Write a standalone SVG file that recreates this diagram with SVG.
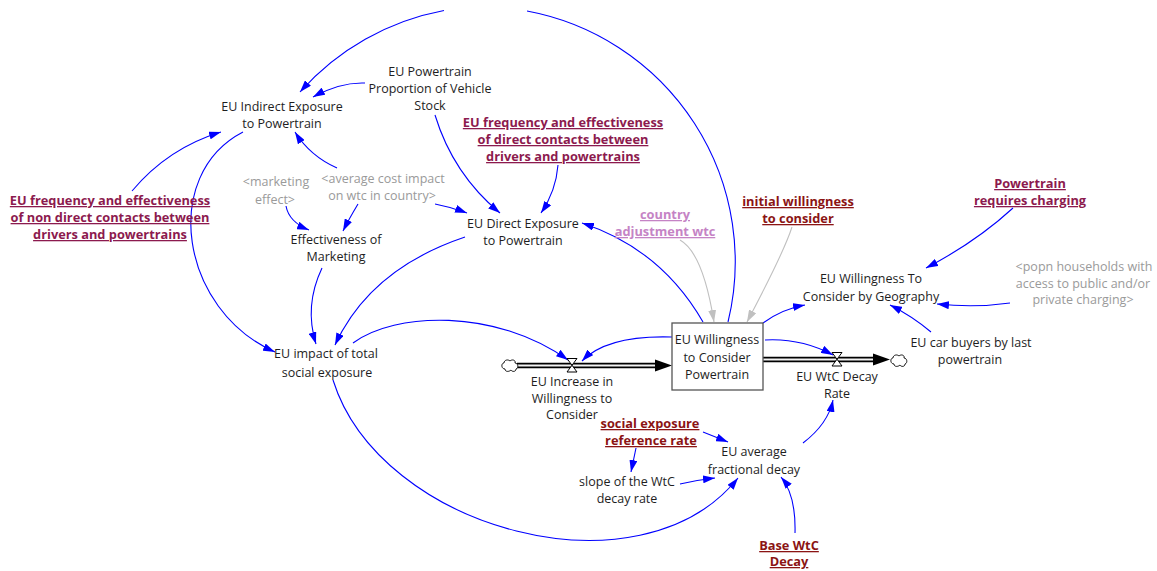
<svg xmlns="http://www.w3.org/2000/svg" width="1157" height="571" viewBox="0 0 1157 571">
<style>
.t{font-family:"Open Sans","Noto Sans",sans-serif;font-size:12.5px;fill:#1e1e1e;text-anchor:middle}
.g{fill:#9a9a9a}
.b{font-weight:bold;text-decoration:underline;font-size:12.8px}
.pm{fill:#8c1a4e}
.dr{fill:#8b1414}
.lp{fill:#c583c5}
.c{fill:none;stroke:#0000ff;stroke-width:1.1;marker-end:url(#ab)}
.cn{fill:none;stroke:#0000ff;stroke-width:1.1}
.cg{fill:none;stroke:#c0c0c0;stroke-width:1.1;marker-end:url(#ag)}
.pipe{fill:none;stroke:#000;stroke-width:5.5}
.pipei{fill:none;stroke:#f2f2f2;stroke-width:2.2}
.valve{fill:#fff;stroke:#000;stroke-width:1}
.cloud{fill:#fff;stroke:#000;stroke-width:0.9}
</style>
<defs>
<marker id="ab" viewBox="0 0 12 8" refX="12" refY="4" markerWidth="12" markerHeight="8" markerUnits="userSpaceOnUse" orient="auto"><path d="M0,0 L12,4 L0,8 z" fill="#0000ff"/></marker>
<marker id="ag" viewBox="0 0 12 8" refX="12" refY="4" markerWidth="12" markerHeight="8" markerUnits="userSpaceOnUse" orient="auto"><path d="M0,0 L12,4 L0,8 z" fill="#c0c0c0"/></marker>
<path id="cl" d="M-5,4 c-4,0 -4,-6 -1,-6 c0,-3 4,-4 6,-2 c2,-2 6,-1 5,2 c3,0 4,5 1,6 c0,3 -4,3 -5,1 c-2,2 -6,2 -6,-1 z"/>
</defs>
<rect width="1157" height="571" fill="#fff"/>

<g id="connectors">
<path class="cn" d="M728,322 A255,255 0 0 0 527,11"/>
<path class="c" d="M444,10.5 A255,255 0 0 0 300,92"/>
<path class="c" d="M365,83 Q340,82 313,97"/>
<path class="c" d="M337,168 Q310,156 295,132"/>
<path class="c" d="M358,204 Q349,219 343,231"/>
<path class="c" d="M286,206 Q289,222 309,230"/>
<path class="c" d="M435,204 Q451,207 467,213"/>
<path class="c" d="M435,115 Q453,174 500,213"/>
<path class="c" d="M558,165 Q556,191 541,213"/>
<path class="c" d="M703,322 Q661,249 582,223"/>
<path class="c" d="M132,191 Q168,148 221,132"/>
<path class="c" d="M243,132 C160,175 180,310 275,352"/>
<path class="c" d="M322,268 Q304,306 316,344"/>
<path class="c" d="M465,237 Q370,269 335,345"/>
<path class="c" d="M353,343 C395,312 495,308 568,360"/>
<path class="c" d="M672,337 Q607,335 582,361"/>
<path class="c" d="M333,380 C380,530 640,600 738,478"/>
<path class="c" d="M703,432 L728,442"/>
<path class="c" d="M636,448 L631,472"/>
<path class="c" d="M680,484 Q697,480 715,478"/>
<path class="c" d="M795,533 Q796,495 781,477"/>
<path class="c" d="M803,443 Q828,424 833,400"/>
<path class="c" d="M765,340 Q801,338 833,355"/>
<path class="c" d="M763,323 Q782,309 805,305"/>
<path class="c" d="M1013,208 Q976,242 926,268"/>
<path class="c" d="M1010,303 Q975,308 937,304"/>
<path class="c" d="M931,332 Q912,316 890,305"/>
<path class="cg" d="M680,240 Q703,253 714,322"/>
<path class="cg" d="M792,227 Q784,252 747,322"/>
</g>

<g id="flow-increase">
<path class="pipe" d="M517,365.5 L657,365.5"/>
<path class="pipei" d="M517,365.5 L657,365.5"/>
<path d="M655,359.5 L672,365.5 L655,371.5 z" fill="#000"/>
<use href="#cl" class="cloud" transform="translate(510,365)"/>
<path class="valve" d="M567,358.5 L577,358.5 L567,372 L577,372 z"/>
<text class="t"><tspan x="572" y="386">EU Increase in</tspan><tspan x="572" y="403">Willingness to</tspan><tspan x="572" y="419">Consider</tspan></text>
</g>

<g id="flow-decay">
<path class="pipe" d="M763,359.5 L875,359.5"/>
<path class="pipei" d="M763,359.5 L875,359.5"/>
<path d="M873,353.5 L890,359.5 L873,365.5 z" fill="#000"/>
<use href="#cl" class="cloud" transform="translate(899,360)"/>
<path class="valve" d="M832,352.5 L842,352.5 L832,366 L842,366 z"/>
<text class="t"><tspan x="837" y="381">EU WtC Decay</tspan><tspan x="837" y="398">Rate</tspan></text>
</g>

<g id="stock">
<rect x="672" y="323" width="91" height="67" fill="#fff" stroke="#555" stroke-width="1.3"/>
<text class="t"><tspan x="717" y="344">EU Willingness</tspan><tspan x="717" y="362">to Consider</tspan><tspan x="717" y="379">Powertrain</tspan></text>
</g>

<g id="indirect"><text class="t"><tspan x="282" y="111">EU Indirect Exposure</tspan><tspan x="282" y="128">to Powertrain</tspan></text></g>
<g id="proportion"><text class="t"><tspan x="430" y="76">EU Powertrain</tspan><tspan x="430" y="93">Proportion of Vehicle</tspan><tspan x="430" y="110">Stock</tspan></text></g>
<g id="freq-direct"><text class="t b pm"><tspan x="563" y="127">EU frequency and effectiveness</tspan><tspan x="563" y="144">of direct contacts between</tspan><tspan x="563" y="161">drivers and powertrains</tspan></text></g>
<g id="avg-cost"><text class="t g"><tspan x="383" y="183">&lt;average cost impact</tspan><tspan x="382" y="200">on wtc in country&gt;</tspan></text></g>
<g id="marketing-effect"><text class="t g"><tspan x="276" y="186">&lt;marketing</tspan><tspan x="275" y="204">effect&gt;</tspan></text></g>
<g id="eff-marketing"><text class="t"><tspan x="336" y="244">Effectiveness of</tspan><tspan x="336" y="261">Marketing</tspan></text></g>
<g id="direct"><text class="t"><tspan x="523" y="228">EU Direct Exposure</tspan><tspan x="523" y="245">to Powertrain</tspan></text></g>
<g id="freq-nondirect"><text class="t b pm"><tspan x="110" y="205">EU frequency and effectiveness</tspan><tspan x="110" y="222">of non direct contacts between</tspan><tspan x="110" y="239">drivers and powertrains</tspan></text></g>
<g id="country-adj"><text class="t b lp"><tspan x="665" y="219">country</tspan><tspan x="665" y="236">adjustment wtc</tspan></text></g>
<g id="initial"><text class="t b dr"><tspan x="798" y="206">initial willingness</tspan><tspan x="798" y="223">to consider</tspan></text></g>
<g id="requires-charging"><text class="t b pm"><tspan x="1030" y="188">Powertrain</tspan><tspan x="1030" y="205">requires charging</tspan></text></g>
<g id="geography"><text class="t"><tspan x="871" y="283">EU Willingness To</tspan><tspan x="871" y="301">Consider by Geography</tspan></text></g>
<g id="popn"><text class="t g"><tspan x="1084" y="271">&lt;popn households with</tspan><tspan x="1083" y="288">access to public and/or</tspan><tspan x="1083" y="304">private charging&gt;</tspan></text></g>
<g id="car-buyers"><text class="t"><tspan x="971" y="347">EU car buyers by last</tspan><tspan x="970" y="364">powertrain</tspan></text></g>
<g id="impact"><text class="t"><tspan x="326" y="358">EU impact of total</tspan><tspan x="327" y="377">social exposure</tspan></text></g>
<g id="social-ref"><text class="t b dr"><tspan x="650" y="428">social exposure</tspan><tspan x="651" y="445">reference rate</tspan></text></g>
<g id="avg-decay"><text class="t"><tspan x="754" y="456">EU average</tspan><tspan x="754" y="474">fractional decay</tspan></text></g>
<g id="slope"><text class="t"><tspan x="627" y="486">slope of the WtC</tspan><tspan x="627" y="503">decay rate</tspan></text></g>
<g id="base-decay"><text class="t b dr"><tspan x="789" y="550">Base WtC</tspan><tspan x="789" y="566">Decay</tspan></text></g>
</svg>
